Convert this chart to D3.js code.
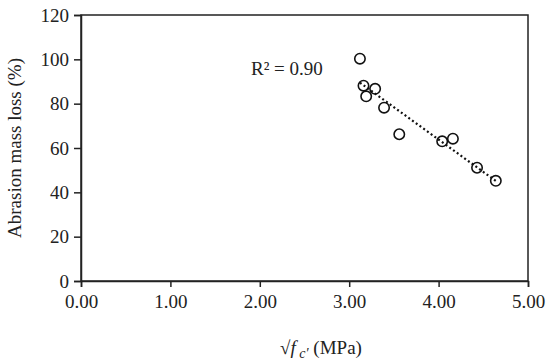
<!DOCTYPE html>
<html>
<head>
<meta charset="utf-8">
<script src="https://cdn.jsdelivr.net/npm/d3@7"></script>
<style>
  body { margin: 0; background: #fff; }
  text { font-family: "Liberation Serif", "DejaVu Serif", serif; fill: #222; }
</style>
</head>
<body>
<script>
  // Data
  var sqrtFc = [3.12, 3.16, 3.29, 3.19, 3.39, 3.56, 4.04, 4.16, 4.43, 4.64];
  var massLoss = [100.3, 88.1, 86.7, 83.3, 78.2, 66.2, 63.0, 64.2, 51.1, 45.2];
  var xTicks = [0, 1, 2, 3, 4, 5];
  var yTicks = [0, 20, 40, 60, 80, 100, 120];
  var r2Label = 'R² = 0.90';

  var width = 550, height = 361;
  var margin = {top: 15, right: 22, bottom: 80, left: 81};

  var svg = d3.select('body').append('svg')
    .attr('width', width)
    .attr('height', height);

  var x = d3.scaleLinear().domain([0, 5]).range([margin.left, width - margin.right]);
  var y = d3.scaleLinear().domain([0, 120]).range([height - margin.bottom, margin.top]);

  // frame
  svg.append('rect')
    .attr('x', x(0)).attr('y', y(120))
    .attr('width', x(5) - x(0)).attr('height', y(0) - y(120))
    .attr('fill', 'none').attr('stroke', '#222').attr('stroke-width', 1.5);

  var xAxis = svg.append('g')
    .attr('transform', 'translate(0,' + y(0) + ')')
    .call(d3.axisBottom(x).tickValues(xTicks).tickFormat(d3.format('.2f')).tickSize(6).tickPadding(8));

  var yAxis = svg.append('g')
    .attr('transform', 'translate(' + x(0) + ',0)')
    .call(d3.axisLeft(y).tickValues(yTicks).tickSize(7).tickPadding(5));

  [xAxis, yAxis].forEach(function(g) {
    g.select('.domain').attr('stroke', '#222').attr('stroke-width', 1.5);
    g.selectAll('.tick line').attr('stroke', '#222').attr('stroke-width', 1.5);
    g.selectAll('.tick text').style('font-size', '19px').attr('fill', '#222')
      .style('font-family', '"Liberation Serif", serif');
  });

  // linear trendline (least squares over the points)
  var mx = d3.mean(sqrtFc), my = d3.mean(massLoss);
  var sxy = 0, sxx = 0;
  sqrtFc.forEach(function(v, i) {
    sxy += (v - mx) * (massLoss[i] - my);
    sxx += (v - mx) * (v - mx);
  });
  var slope = sxy / sxx, icpt = my - slope * mx;
  var xr = d3.extent(sqrtFc);

  svg.append('line')
    .attr('x1', x(xr[0])).attr('y1', y(icpt + slope * xr[0]))
    .attr('x2', x(xr[1])).attr('y2', y(icpt + slope * xr[1]))
    .attr('stroke', '#111')
    .attr('stroke-width', 2.2)
    .attr('stroke-dasharray', '2,2.6');

  svg.selectAll('circle.pt')
    .data(sqrtFc)
    .enter()
    .append('circle')
    .attr('class', 'pt')
    .attr('cx', function(d) { return x(d); })
    .attr('cy', function(d, i) { return y(massLoss[i]); })
    .attr('r', 5.2)
    .attr('fill', 'none')
    .attr('stroke', '#111')
    .attr('stroke-width', 1.6);

  svg.append('text')
    .attr('x', 251).attr('y', 75)
    .style('font-size', '19px')
    .text(r2Label);

  // axis titles
  svg.append('text')
    .attr('transform', 'translate(21,' + (y(60)) + ') rotate(-90)')
    .attr('text-anchor', 'middle')
    .style('font-size', '19px')
    .text('Abrasion mass loss (%)');

  var xt = svg.append('text')
    .attr('x', 321).attr('y', 354)
    .attr('text-anchor', 'middle')
    .style('font-size', '19px');
  xt.append('tspan').text('√');
  xt.append('tspan').style('font-style', 'italic').text('f');
  xt.append('tspan').attr('dy', 4).style('font-size', '14px').style('font-style', 'italic').text(' c′');
  xt.append('tspan').attr('dy', -4).text(' (MPa)');
</script>
</body>
</html>
